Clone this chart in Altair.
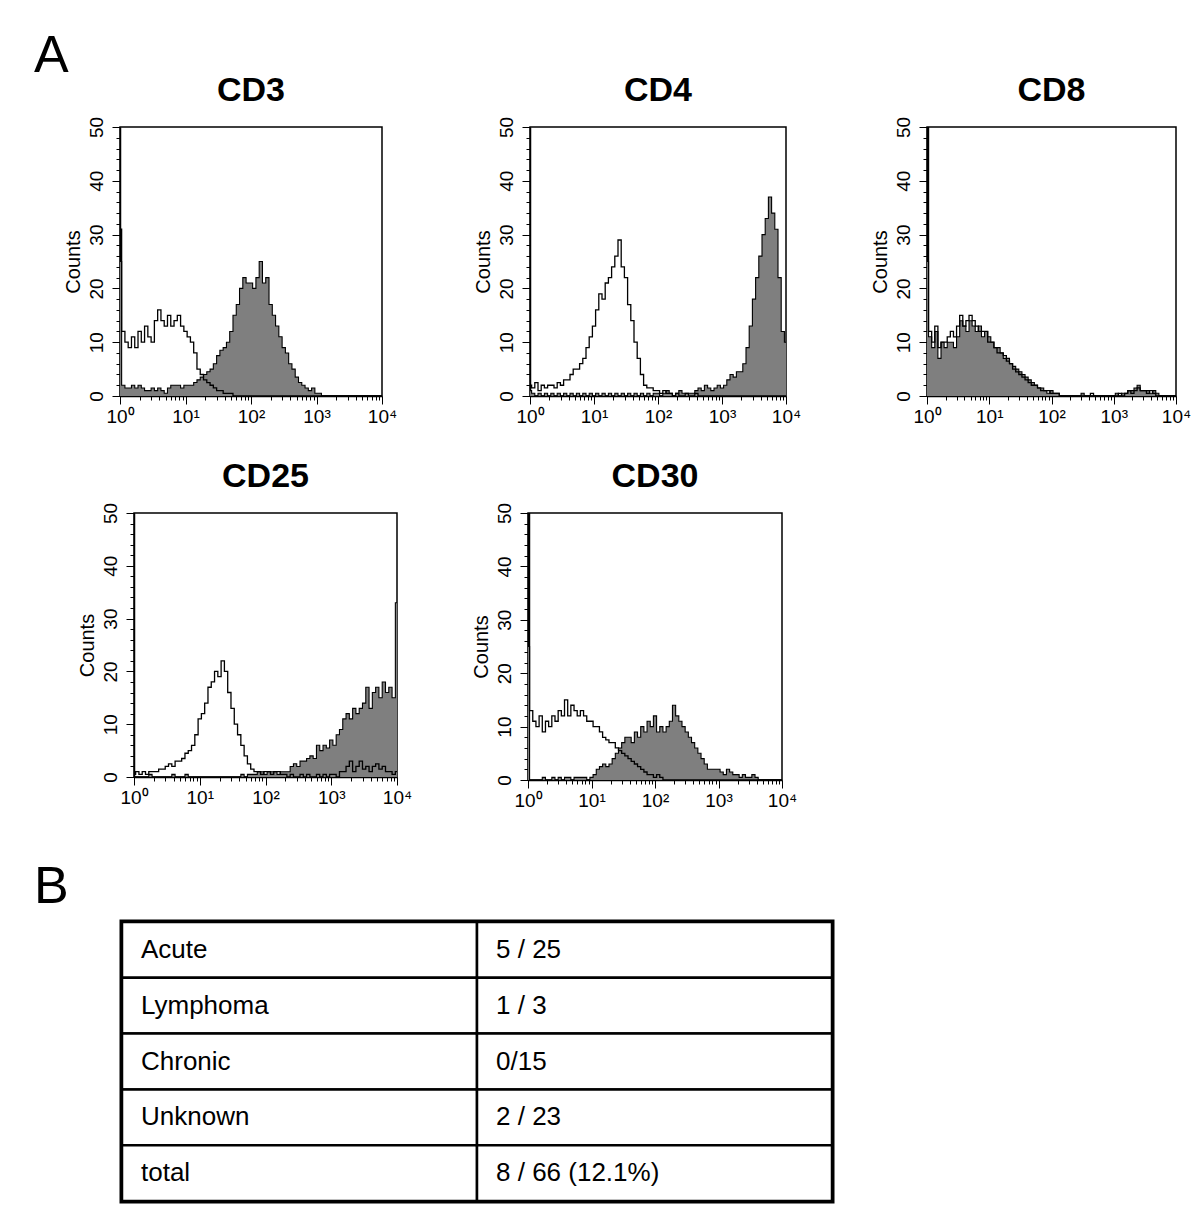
import math
import altair as alt
import pandas as pd

FONT = "Liberation Sans"

# log10 fluorescence channel positions (0 -> 10^0 ... 4 -> 10^4)
LOG_CHANNELS = [round(i * 0.05, 2) for i in range(81)]

# ---------- histogram counts (81 channels each) ----------
CD3_NEG = [31, 12, 10, 9, 11, 9, 12, 10, 13, 11,
           10, 14, 16, 14, 13, 15, 13, 14, 15, 13,
           12, 11, 10, 8, 5, 4, 3, 2.5, 2, 1.5,
           1, 1, 0.5, 0.5, 0.5, 0, 0, 0, 0, 0,
           0, 0, 0, 0, 0, 0, 0, 0, 0, 0,
           0, 0, 0, 0, 0, 0, 0, 0, 0, 0,
           0, 0, 0, 0, 0, 0, 0, 0, 0, 0,
           0, 0, 0, 0, 0, 0, 0, 0, 0, 0,
           0]
CD3_POS = [25, 2, 1.5, 1.5, 2, 1.5, 2, 1.5, 1, 1,
           1.5, 1, 1.5, 1, 0.5, 1.5, 2, 2, 2, 1.5,
           2, 2, 2, 2.5, 3, 3.5, 4, 4.5, 5, 6,
           7.5, 8.5, 9, 10, 12, 15, 17, 20, 22, 21,
           21, 20, 22, 25, 21, 22, 17, 15, 13, 11,
           9, 8, 6, 5, 3.5, 2.5, 2, 1.5, 1, 1.5,
           0.5, 0.5, 0, 0, 0, 0, 0, 0, 0, 0,
           0, 0, 0, 0, 0, 0, 0, 0, 0, 0,
           0]

CD4_NEG = [2, 1.5, 2.5, 1, 2, 1.5, 2, 2, 1.5, 2.5,
           2, 3, 3, 4, 5, 5, 6, 7, 9, 11,
           13, 16, 19, 18, 21, 22, 24, 26, 29, 24,
           22, 17, 14, 10, 7, 4, 2, 1.5, 1.5, 1,
           1, 0.5, 1, 0.5, 0.5, 0, 0.5, 0, 0, 0.5,
           0, 0, 0.5, 0, 0, 0, 0, 0, 0, 0,
           0, 0, 0, 0, 0, 0, 0, 0, 0, 0,
           0, 0, 0, 0, 0, 0, 0, 0, 0, 0,
           0]
CD4_POS = [1, 0.5, 0, 0.5, 0, 0.5, 0, 0.5, 0, 0.5,
           0, 0.5, 0, 0.5, 0, 0.5, 0, 0.5, 0, 0.5,
           0, 0.5, 0, 0.5, 0, 0.5, 0, 0.5, 0, 0.5,
           0, 0.5, 0, 0.5, 0, 0.5, 0, 0.5, 0, 0.5,
           0.5, 0, 0.5, 1, 0.5, 0, 0.5, 1, 0.5, 0.5,
           0.5, 0.5, 1, 1.5, 1, 2, 1.5, 1, 1.5, 2,
           1.5, 2, 3, 4, 3.5, 4.5, 4.5, 6, 9, 13,
           18, 22, 26, 30, 33, 37, 34, 31, 22, 12,
           10]

CD8_NEG = [55, 12, 10, 13, 9, 10, 10, 11, 12, 11,
           13, 15, 13, 14, 15, 14, 13, 12, 12, 12,
           10, 10, 9, 8, 8, 7.5, 6.5, 6, 5, 4.5,
           4, 3.5, 3, 2.5, 2, 2, 1.5, 1, 1, 1,
           0.5, 0.5, 0.5, 0, 0, 0, 0, 0, 0, 0,
           0, 0, 0, 0.5, 0, 0, 0, 0, 0, 0,
           0, 0, 0.5, 0, 0.5, 1, 0.5, 1, 1.5, 1,
           1, 0.5, 1, 0.5, 0, 0, 0, 0, 0, 0,
           0]
CD8_POS = [25, 11, 9, 12, 7, 10, 9, 10, 10, 9,
           11, 14, 13, 12, 14, 13, 12, 13, 11, 12,
           11, 10, 9, 9, 8, 7, 7, 6, 5.5, 5,
           4.5, 4, 3.5, 3, 2.5, 2, 1.5, 1.5, 1, 0.5,
           1, 0.5, 0.5, 0, 0, 0, 0, 0, 0, 0,
           0.5, 0, 0, 0, 0, 0, 0, 0, 0, 0,
           0, 0.5, 0, 0.5, 0.5, 1, 1, 1.5, 2, 1,
           1, 1, 0.5, 1, 0.5, 0, 0, 0, 0, 0,
           0]

CD25_NEG = [0.5, 1, 0.5, 1, 0.5, 1, 1, 1, 1.5, 1.5,
            2, 2.5, 2, 3, 3, 3.5, 4.5, 5, 6, 8,
            11, 12, 14, 17, 18, 20, 19, 22, 20, 16,
            13, 10, 8, 6, 4, 2.5, 1.5, 1, 1, 0.5,
            1, 1, 0.5, 1, 1, 0.5, 0.5, 0, 0.5, 0,
            0, 0.5, 0, 0.5, 0, 0, 0.5, 0, 0.5, 0,
            0.5, 0.5, 0, 1, 1, 2, 3, 1, 2, 3,
            1.5, 2, 1, 2, 2.5, 1.5, 2, 1, 1, 0.5,
            1]
CD25_POS = [0, 0, 0, 0, 0, 0.5, 0, 0, 0, 0,
            0, 0, 0.5, 0, 0, 0, 0.5, 0, 0, 0,
            0, 0, 0, 0, 0, 0, 0, 0, 0, 0,
            0, 0, 0, 0.5, 0, 0.5, 0.5, 0.5, 1, 1,
            0.5, 1, 1, 1, 0.5, 1, 1, 1, 2, 2.5,
            2, 3, 3, 3.5, 4, 3.5, 6, 5, 6, 5.5,
            7, 6, 8, 9, 11, 12, 11, 13, 12, 13,
            14, 17, 13, 16, 17, 15, 18, 16, 17, 15,
            33]

CD30_NEG = [55, 13, 11, 10, 12, 9, 11, 10, 12, 11,
            13, 12, 15, 12, 14, 13, 12, 13, 12, 11,
            11, 10, 10, 9, 8, 7.5, 7, 7, 6, 5.5,
            5, 4.5, 4, 3.5, 3, 2.5, 2, 1.5, 1, 1,
            0.5, 1, 0.5, 0, 0, 0, 0, 0, 0, 0,
            0, 0, 0, 0, 0, 0, 0, 0, 0, 0,
            0, 0, 0, 0, 0, 0, 0, 0, 0, 0,
            0, 0, 0, 0, 0, 0, 0, 0, 0, 0,
            0]
CD30_POS = [25, 0, 0, 0, 0, 0.5, 0, 0, 0.5, 0,
            0.5, 0, 0.5, 0.5, 0, 0.5, 0.5, 0.5, 0.5, 0,
            0.5, 1, 2, 2.5, 3, 2.5, 3, 4, 5, 6,
            7, 8, 8, 7, 9, 8, 10, 9, 11, 10,
            12, 9, 10, 9, 10, 11, 14, 12, 11, 10,
            9, 8, 7, 6, 5, 4, 3, 2, 2, 2,
            2, 1.5, 1, 2, 1.5, 1, 1, 0.5, 1, 0.5,
            0.5, 1, 0.5, 0, 0, 0, 0, 0, 0, 0,
            0]

# ---------- table (panel B) ----------
ROW_LABELS = ["Acute", "Lymphoma", "Chronic", "Unknown", "total"]
ROW_VALUES = ["5 / 25", "1 / 3", "0/15", "2 / 23", "8 / 66 (12.1%)"]

# ---------- axes ----------
X_TICKS = sorted(set([round(k + math.log10(m), 4) for k in range(4) for m in range(1, 10)] + [4.0]))
MAJOR_X = "abs(datum.value - round(datum.value)) < 0.001"
SUP = "['\u2070','\u00b9','\u00b2','\u00b3','\u2074']"


def x_axis():
    return alt.Axis(
        values=X_TICKS,
        labelExpr=f"{MAJOR_X} ? '10' + {SUP}[round(datum.value)] : ''",
        tickSize={"condition": {"test": MAJOR_X, "value": 8}, "value": 4},
        labelOverlap=False, labelFlush=False, grid=False, title=None,
        labelFontSize=19, labelPadding=3,
    )


def y_axis():
    return alt.Axis(
        values=list(range(0, 51, 2)),
        labelExpr="datum.value % 10 == 0 ? datum.label : ''",
        tickSize={"condition": {"test": "datum.value % 10 == 0", "value": 8}, "value": 4},
        labelAngle=270, labelAlign="center", labelBaseline="bottom",
        labelOverlap=False, labelFlush=False, grid=False,
        labelFontSize=19, labelPadding=6,
        title="Counts", titleFontSize=20, titleFontWeight="normal", titlePadding=4,
    )


def panel(name, neg, pos, w, h):
    df = pd.DataFrame({"logfl": LOG_CHANNELS, "neg": neg, "pos": pos})
    xs = alt.Scale(domain=[0, 4], nice=False, zero=False)
    ys = alt.Scale(domain=[0, 50], nice=False)
    filled = alt.Chart(df).mark_area(
        interpolate="step", color="#7f7f7f", opacity=1, clip=True,
        line={"color": "black", "strokeWidth": 1.1},
    ).encode(
        x=alt.X("logfl:Q", scale=xs, axis=x_axis()),
        y=alt.Y("pos:Q", scale=ys, axis=y_axis()),
    )
    open_line = alt.Chart(df).mark_line(
        interpolate="step", color="black", strokeWidth=1.3, clip=True
    ).encode(
        x=alt.X("logfl:Q", scale=xs, axis=x_axis()),
        y=alt.Y("neg:Q", scale=ys, axis=y_axis()),
    )
    return alt.layer(filled, open_line).properties(
        width=w, height=h,
        title=alt.TitleParams(name, fontSize=34, fontWeight="bold", font=FONT,
                              frame="group", offset=8, anchor="middle"),
    )


def letter(text, y_px):
    df = pd.DataFrame({"t": [text]})
    return alt.Chart(df).mark_text(
        align="left", baseline="alphabetic", fontSize=52, font=FONT, color="black"
    ).encode(
        x=alt.value(0), y=alt.value(y_px), text="t:N"
    ).properties(width=1, height=1, view=alt.ViewBackground(stroke="transparent"))


row1 = alt.hconcat(
    letter("A", -55),
    alt.hconcat(
        alt.hconcat(
            panel("CD3", CD3_NEG, CD3_POS, 262, 269),
            panel("CD4", CD4_NEG, CD4_POS, 256, 269),
            spacing=74,
        ),
        panel("CD8", CD8_NEG, CD8_POS, 249, 269),
        spacing=67,
    ),
    spacing=-8,
)

row2 = alt.hconcat(
    letter("", 0),
    alt.hconcat(
        panel("CD25", CD25_NEG, CD25_POS, 263, 264),
        panel("CD30", CD30_NEG, CD30_POS, 254, 267),
        spacing=57,
    ),
    spacing=40,
)

# table
tdf = pd.DataFrame({
    "row": list(range(5)) * 2,
    "col": [0] * 5 + [1] * 5,
    "label": ROW_LABELS + ROW_VALUES,
})
tbase = alt.Chart(tdf).transform_calculate(
    r2="datum.row + 1", c2="datum.col + 1", ym="datum.row + 0.5"
)
cells = tbase.mark_rect(fill="white", stroke="black", strokeWidth=2.5).encode(
    x=alt.X("col:Q", scale=alt.Scale(domain=[0, 2], nice=False, zero=False), axis=None),
    x2="c2:Q",
    y=alt.Y("row:Q", scale=alt.Scale(domain=[0, 5], nice=False, reverse=True), axis=None),
    y2="r2:Q",
)
texts = tbase.mark_text(
    align="left", baseline="middle", dx=19, fontSize=26, font=FONT, color="black"
).encode(x="col:Q", y="ym:Q", text="label:N")
table = alt.layer(cells, texts).properties(
    width=710, height=279,
    view=alt.ViewBackground(stroke="black", strokeWidth=5),
)

row3 = alt.hconcat(letter("B", -19), table, spacing=48)

chart = alt.vconcat(
    alt.vconcat(row1, row2, spacing=32),
    row3,
    spacing=49,
).properties(
    padding={"left": 25, "top": 21, "right": 0, "bottom": 4},
).configure_view(
    stroke="black", strokeWidth=1.5
).configure_axis(
    domainColor="black", domainWidth=1.5, tickColor="black", tickWidth=1,
    labelColor="black", titleColor="black", labelFont=FONT, titleFont=FONT,
).configure_title(color="black", font=FONT)

chart.save("out.html", embed_options={"renderer": "svg", "actions": False})
